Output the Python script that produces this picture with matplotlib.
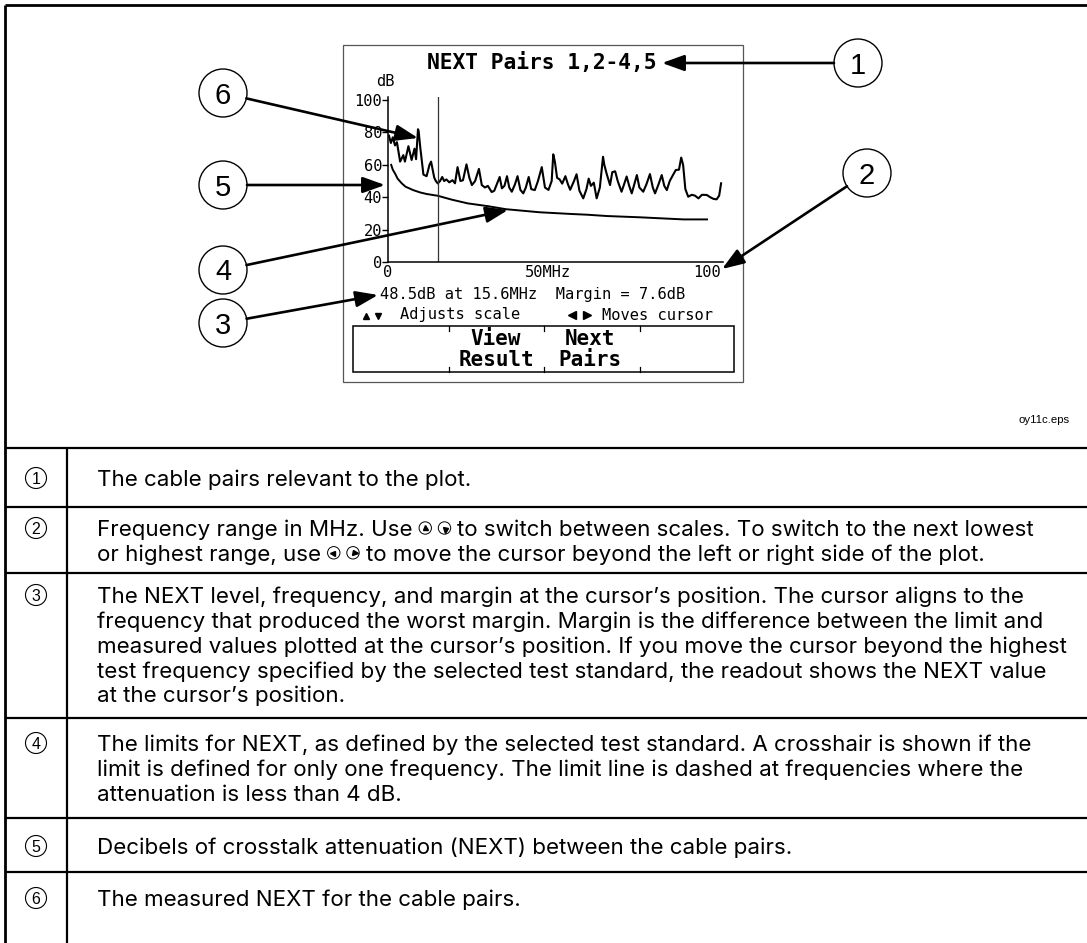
import matplotlib
matplotlib.use('Agg')
import matplotlib.pyplot as plt
from matplotlib.patches import Circle, Rectangle
import numpy as np

# ---------------- data ----------------
meas_freq = [0.3, 0.9, 1.5, 2.2, 2.8, 3.8, 4.8, 5.3, 6.4, 7.4, 8.3, 8.8, 9.4, 9.6, 10.1,
             11.1, 12.1, 13.0, 13.5, 14.5, 15.0, 15.6, 16.3, 17.0, 17.6, 18.3, 19.2, 20.2,
             21.0, 21.8, 22.7, 23.5, 24.6, 25.5, 26.3, 27.3, 28.5, 29.4, 30.4, 31.3, 32.5,
             33.3, 34.3, 35.0, 35.7, 36.5, 37.3, 38.0, 38.8, 39.8, 40.6, 41.5, 42.4, 43.2,
             44.1, 44.9, 46.0, 47.0, 48.2, 49.2, 50.3, 51.3, 51.8, 52.3, 53.0, 53.8, 54.6,
             55.6, 56.4, 57.1, 58.3, 59.1, 60.0, 61.2, 62.2, 62.9, 63.6, 64.5, 65.4, 66.4,
             67.4, 67.8, 68.6, 69.6, 70.3, 71.2, 72.0, 73.2, 74.0, 74.8, 75.6, 76.4, 77.2,
             78.0, 78.8, 80.0, 81.0, 82.1, 83.0, 83.7, 84.8, 85.8, 86.6, 87.4, 88.3, 89.4,
             90.2, 91.2, 91.9, 92.5, 93.2, 94.1, 95.2, 96.2, 97.3, 98.4, 99.9, 101.0, 102.0,
             103.0, 103.8, 104.4]
meas_db = [78, 73.5, 77, 72, 74, 62, 66, 62, 71.5, 63, 70, 63.5, 82, 81, 71,
           54, 53, 60, 62, 52, 50, 48.5, 50, 52.5, 50, 51, 49.2, 50.5,
           48.6, 58.6, 50, 50.5, 60.3, 52, 47.5, 50, 57.5, 47.5, 46, 47, 43.2,
           44, 49, 52.5, 45.5, 47, 53, 46, 43.4, 48, 53, 44.5, 42.4, 46,
           52.5, 45, 44.4, 50, 58.6, 46, 44.5, 50, 66.5, 62, 52, 51, 48.4,
           53, 48, 44.6, 50, 54.2, 44, 39.3, 45, 51.5, 47, 49, 39.3, 46,
           65, 60, 54, 47.5, 55.5, 56, 50, 43.4, 48, 52.8, 47, 42.4, 48,
           53.7, 46, 43.4, 48, 54.3, 46, 42.4, 48, 53.7, 47, 44.4, 50, 54,
           56.8, 57, 64.5, 60, 45, 40.3, 41.5, 41, 39.3, 41.5, 41.4, 40, 39,
           38.7, 41, 48.6]

limit_freq = [1.0, 1.5, 2.2, 3.0, 4.3, 5.5, 7.9, 10.0, 12.1, 15.6, 20, 25, 31.25, 37,
              47.6, 58, 62.5, 68.5, 79, 92.6, 100]
limit_db = [60, 57, 54.7, 51.5, 48.6, 46.5, 44.4, 43, 42, 40.9, 38.5, 36.2, 34.5, 32.6,
            30.7, 29.6, 29.2, 28.4, 27.6, 26.3, 26.3]

cursor_mhz = 15.6
y_ticks = [0, 20, 40, 60, 80, 100]
x_ticks = [0, 50, 100]
x_tick_labels = ['0', '50MHz', '100']

title = 'NEXT Pairs 1,2-4,5'
readout = '48.5dB at 15.6MHz  Margin = 7.6dB'

rows = [
    ["The cable pairs relevant to the plot."],
    ["Frequency range in MHz. Use |UP| |DOWN| to switch between scales. To switch to the next lowest",
     "or highest range, use |LEFT| |RIGHT| to move the cursor beyond the left or right side of the plot."],
    ["The NEXT level, frequency, and margin at the cursor\u2019s position. The cursor aligns to the",
     "frequency that produced the worst margin. Margin is the difference between the limit and",
     "measured values plotted at the cursor\u2019s position. If you move the cursor beyond the highest",
     "test frequency specified by the selected test standard, the readout shows the NEXT value",
     "at the cursor\u2019s position."],
    ["The limits for NEXT, as defined by the selected test standard. A crosshair is shown if the",
     "limit is defined for only one frequency. The limit line is dashed at frequencies where the",
     "attenuation is less than 4 dB."],
    ["Decibels of crosstalk attenuation (NEXT) between the cable pairs."],
    ["The measured NEXT for the cable pairs."],
]

# ---------------- figure ----------------
W, H = 1087, 943
fig = plt.figure(figsize=(W / 100, H / 100), dpi=100)
base = fig.add_axes([0, 0, 1, 1])
base.set_xlim(0, W)
base.set_ylim(H, 0)
base.axis('off')
renderer = fig.canvas.get_renderer()

MONO = 'DejaVu Sans Mono'
SANS = ['Inter', 'Liberation Sans', 'DejaVu Sans']
ARIAL = ['Liberation Sans', 'DejaVu Sans']
LCDFS = 11.1

# outer frame
base.plot([5, 5], [5, H], color='black', lw=2.0, solid_capstyle='butt')
base.plot([5, W], [5, 5], color='black', lw=2.0, solid_capstyle='butt')

# LCD box
base.add_patch(Rectangle((343, 45), 400, 337, fill=False, ec='#555555', lw=0.9))

# plot axes
def px_ax(l, t, r, b):
    return [l / W, 1 - b / H, (r - l) / W, (b - t) / H]

ax = fig.add_axes(px_ax(388, 97, 723, 262))
ax.patch.set_alpha(0)
ax.set_xlim(0, 105)
ax.set_ylim(0, 101.9)
for s in ['top', 'right']:
    ax.spines[s].set_visible(False)
for s in ['left', 'bottom']:
    ax.spines[s].set_linewidth(1.1)
ax.plot(meas_freq, meas_db, color='black', lw=1.5)
ax.plot(limit_freq, limit_db, color='black', lw=1.4)
ax.axvline(cursor_mhz, color='#333333', lw=0.9)
ax.set_yticks(y_ticks)
ax.set_yticklabels([str(v) for v in y_ticks], fontfamily=MONO, fontsize=LCDFS)
ax.set_xticks(x_ticks)
ax.set_xticklabels(x_tick_labels, fontfamily=MONO, fontsize=LCDFS)
ax.tick_params(axis='y', direction='out', length=4, width=1.0, pad=0.3)
ax.tick_params(axis='x', length=0, pad=2.0)

# LCD texts
base.text(542, 63, title, ha='center', va='center', fontfamily=MONO,
          fontweight='bold', fontsize=15.3)
base.text(385, 82, 'dB', ha='center', va='center', fontfamily=MONO, fontsize=LCDFS)
base.text(380, 294, readout, ha='left', va='center', fontfamily=MONO, fontsize=LCDFS)
base.plot([366], [316], marker='^', color='black', ms=4.5)
base.plot([378], [316], marker='v', color='black', ms=4.5)
base.text(400, 315, 'Adjusts scale', ha='left', va='center', fontfamily=MONO, fontsize=LCDFS)
base.plot([572], [315], marker='<', color='black', ms=5.5)
base.plot([587], [315], marker='>', color='black', ms=5.5)
base.text(602, 315, 'Moves cursor', ha='left', va='center', fontfamily=MONO, fontsize=LCDFS)

# soft key box
base.add_patch(Rectangle((353, 326), 381, 46, fill=False, ec='black', lw=1.1))
for xd in [449, 544, 640]:
    base.plot([xd, xd], [326, 331], color='black', lw=0.9)
    base.plot([xd, xd], [367, 372], color='black', lw=0.9)
for cx, l1, l2 in [(496, 'View', 'Result'), (590, 'Next', 'Pairs')]:
    base.text(cx, 339, l1, ha='center', va='center', fontfamily=MONO,
              fontweight='bold', fontsize=15)
    base.text(cx, 360, l2, ha='center', va='center', fontfamily=MONO,
              fontweight='bold', fontsize=15)

# callouts
def callout(num, cx, cy, tx, ty, r=24):
    base.add_patch(Circle((cx, cy), r, fill=False, lw=1.0, ec='black'))
    base.text(cx, cy + 10.5, str(num), ha='center', va='baseline', fontsize=21,
              fontfamily=ARIAL)
    dx, dy = tx - cx, ty - cy
    d = np.hypot(dx, dy)
    sx, sy = cx + dx / d * r, cy + dy / d * r
    base.annotate('', xy=(tx, ty), xytext=(sx, sy),
                  arrowprops=dict(arrowstyle='-|>,head_length=0.75,head_width=0.27',
                                  lw=1.9, color='black', shrinkA=0, shrinkB=0,
                                  mutation_scale=18))

callout(1, 858, 63, 662, 63)
callout(2, 867, 173, 722, 269)
callout(6, 223, 93, 418, 138)
callout(5, 223, 185, 385, 185)
callout(4, 223, 270, 508, 210)
callout(3, 223, 323, 378, 295)

base.text(1070, 420, 'oy11c.eps', ha='right', va='center', fontsize=8.2, fontfamily=ARIAL)

# ---------------- table ----------------
row_lines = [448, 507, 573, 718, 818, 872]
row_first = [478, 528, 595, 743, 846, 898]
line_gap = 24.8

def width_of(s, **kw):
    t = base.text(0, 0, s, **kw)
    w = t.get_window_extent(renderer).width
    t.remove()
    return w

# fit body font so the longest line spans the same width as in the page
ref_line = rows[2][2]
w10 = width_of(ref_line, fontfamily=SANS, fontsize=10)
FS = 10 * 973.0 / w10
cap = FS * 100 / 72 * 0.727

for yl in row_lines:
    base.plot([5, W], [yl, yl], color='black', lw=1.6, solid_capstyle='butt')
base.plot([67, 67], [row_lines[0], H], color='black', lw=1.6, solid_capstyle='butt')

def icon(x, y, kind):
    base.add_patch(Circle((x, y), 6.2, fill=False, ec='black', lw=0.7))
    mk = {'UP': '^', 'DOWN': 'v', 'LEFT': '<', 'RIGHT': '>'}[kind]
    off = {'UP': (0, -1.5), 'DOWN': (0, 1.5), 'LEFT': (-1.5, 0), 'RIGHT': (1.5, 0)}[kind]
    base.plot([x + off[0]], [y + off[1]], marker=mk, color='black', ms=3.6)

tkw = dict(fontfamily=SANS, fontsize=FS)
space = width_of('a a', **tkw) - width_of('aa', **tkw)
for i, lines in enumerate(rows):
    y0 = row_first[i]
    base.add_patch(Circle((36, y0), 10.5, fill=False, ec='black', lw=0.8))
    base.text(36, y0 + 5.8, str(i + 1), ha='center', va='baseline', fontsize=11.5,
              fontfamily=ARIAL)
    for j, line in enumerate(lines):
        yb = y0 + j * line_gap + cap / 2
        if '|' not in line:
            base.text(97, yb, line, ha='left', va='baseline', **tkw)
        else:
            x = 97
            for p in line.split('|'):
                if p in ('UP', 'DOWN', 'LEFT', 'RIGHT'):
                    icon(x + 6.5, yb - cap / 2, p)
                    x += 13
                elif p == ' ':
                    x += space
                else:
                    s = p.strip()
                    if p.startswith(' '):
                        x += space
                    base.text(x, yb, s, ha='left', va='baseline', **tkw)
                    x += width_of(s, **tkw)
                    if p.endswith(' '):
                        x += space

fig.savefig('out.png', dpi=100)
